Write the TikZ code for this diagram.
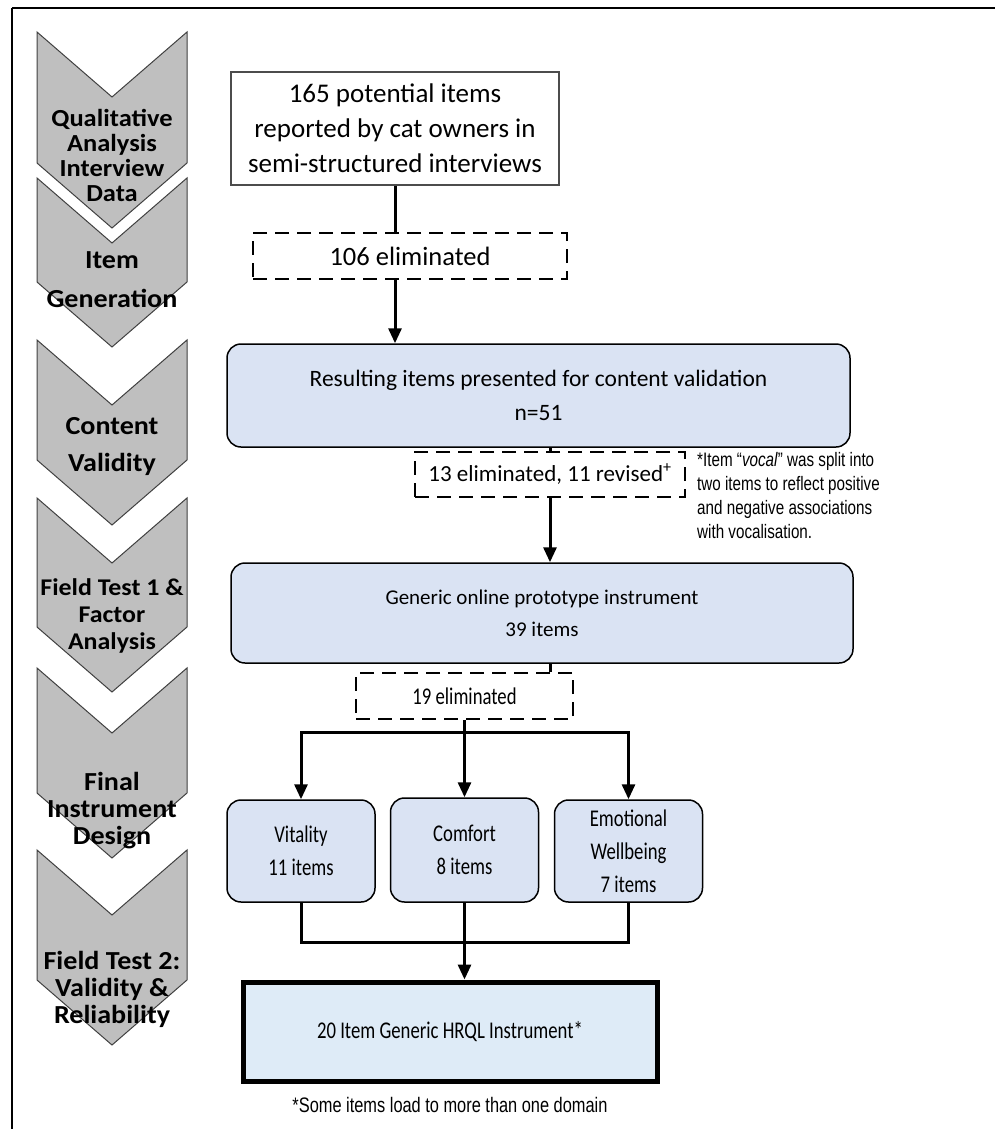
\documentclass[tikz,border=0pt]{standalone}
\usepackage{fontspec}
\setmainfont{Carlito}
\newfontfamily\stagefont[FakeStretch=1.08]{Carlito}
\newfontfamily\narrowfont[FakeStretch=0.78]{Carlito}
\newfontfamily\notefont[FakeStretch=0.78]{Liberation Sans}
\usetikzlibrary{arrows.meta,positioning}

\definecolor{boxblue}{HTML}{DAE3F3}
\definecolor{hrqlblue}{HTML}{DEEBF7}
\definecolor{stagegray}{HTML}{BFBFBF}

\begin{document}
\begin{tikzpicture}
        [
            x = 1pt, y = -1pt,
            stage/.style      = {fill=stagegray, draw=black!75, line width=1pt},
            stagelabel/.style = {align=center, inner sep=0pt, font=\stagefont\bfseries\fontsize{26}{27}\selectfont},
            plainbox/.style   = {shape=rectangle, draw=black!70, line width=1.2pt, align=center, inner sep=0pt},
            cut/.style        = {shape=rectangle, draw, dash pattern=on 14pt off 8pt, line width=1.6pt, align=center, inner sep=0pt},
            blockbox/.style   = {shape=rectangle, rounded corners=14pt, fill=boxblue, draw, line width=1.5pt, align=center, inner sep=0pt},
            domainbox/.style  = {blockbox, minimum width=148pt, minimum height=102pt, font=\narrowfont\fontsize{24}{33}\selectfont},
            link/.style       = {line width=3pt},
            arr/.style        = {link, -{Triangle[width=13pt,length=15pt]}},
        ]
        \useasboundingbox (0,0) rectangle (995,1129);
        \draw[line width=2.5pt] (995,8) -- (12,8);
        \draw[line width=1.6pt] (12,8) -- (12,1129);

        % stages on the left
        \foreach \ya/\yb in {32/163, 178/282, 340/460, 498/627, 668/793, 850/980}
            \draw[stage] (37,\ya) -- (112,\ya+65) -- (187,\ya) -- (187,\yb) -- (112,\yb+65) -- (37,\yb) -- cycle;
        \node [stagelabel, font=\stagefont\bfseries\fontsize{24.5}{25}\selectfont] (stage1) at (112,155) {Qualitative\\Analysis\\Interview\\Data};
        \node [stagelabel] (stage2) at (112,280) {Item\\[12pt]Generation};
        \node [stagelabel] (stage3) at (112,447) {Content\\[10pt]Validity};
        \node [stagelabel, font=\stagefont\bfseries\fontsize{24}{27}\selectfont] (stage4) at (112,616) {Field Test 1 \&\\Factor\\Analysis};
        \node [stagelabel] (stage5) at (112,811) {Final\\Instrument\\Design};
        \node [stagelabel] (stage6) at (112,989) {Field Test 2:\\Validity \&\\Reliability};

        % flow
        \node [plainbox, minimum width=328pt, minimum height=113pt, font=\fontsize{27}{35}\selectfont] (pool) at (395,128.5)
            {165 potential items\\reported by cat owners in\\semi-structured interviews};
        \node [cut, minimum width=314pt, minimum height=46pt, font=\fontsize{26.5}{30}\selectfont] (elim1) at (410,256) {106 eliminated};
        \node [blockbox, minimum width=623pt, minimum height=103pt, font=\fontsize{23.5}{34}\selectfont] (content) at (538.5,395.5)
            {Resulting items presented for content validation\\n=51};
        \node [cut, minimum width=270pt, minimum height=45pt, font=\fontsize{23}{28}\selectfont] (elim2) at (550,474.5)
            {13 eliminated, 11 revised\textsuperscript{+}};
        \node [anchor=north west, inner sep=0pt, align=left, font=\notefont\fontsize{19.5}{24}\selectfont] (vocal) at (697,452)
            {*Item “\textit{vocal}” was split into\\two items to reflect positive\\and negative associations\\with vocalisation.};
        \node [blockbox, minimum width=622pt, minimum height=100pt, font=\fontsize{21}{32}\selectfont] (proto) at (542,613)
            {Generic online prototype instrument\\39 items};
        \node [cut, minimum width=217pt, minimum height=46pt, font=\narrowfont\fontsize{24}{28}\selectfont] (elim3) at (464.5,696) {19 eliminated};
        \node [domainbox] (vital) at (301,851) {Vitality\\11 items};
        \node [domainbox, minimum height=104pt] (comfort) at (464.5,850) {Comfort\\8 items};
        \node [domainbox] (emo) at (628.5,851) {Emotional\\Wellbeing\\7 items};
        \node [shape=rectangle, fill=hrqlblue, draw, line width=5pt, minimum width=414pt, minimum height=99pt,
               font=\narrowfont\fontsize{24}{28}\selectfont] (hrql) at (450,1031.5) {20 Item Generic HRQL Instrument*};
        \node [font=\notefont\fontsize{21}{24}\selectfont] (domnote) at (450,1105) {*Some items load to more than one domain};

        \draw[link] (pool.south) -- (pool.south |- elim1.north);
        \draw[arr]  (pool.south |- elim1.south) -- (pool.south |- content.north);
        \draw[link] (elim2.north |- content.south) -- (elim2.north);
        \draw[arr]  (elim2.south) -- (elim2.south |- proto.north);
        \draw[link] (elim2.south |- proto.south) -- (elim2.south |- elim3.north);
        \draw[link] (elim3.south) -- ++(0,13) coordinate (split);
        \draw[arr]  (split) -| (vital.north);
        \draw[arr]  (split) -- (comfort.north);
        \draw[arr]  (split) -| (emo.north);
        \coordinate (merge) at (464.5,942);
        \draw[link] (vital.south) |- (merge) -| (emo.south);
        \draw[link] (comfort.south) -- (merge);
        \draw[arr]  (merge) -- (merge |- hrql.north);
    \end{tikzpicture}
\end{document}
